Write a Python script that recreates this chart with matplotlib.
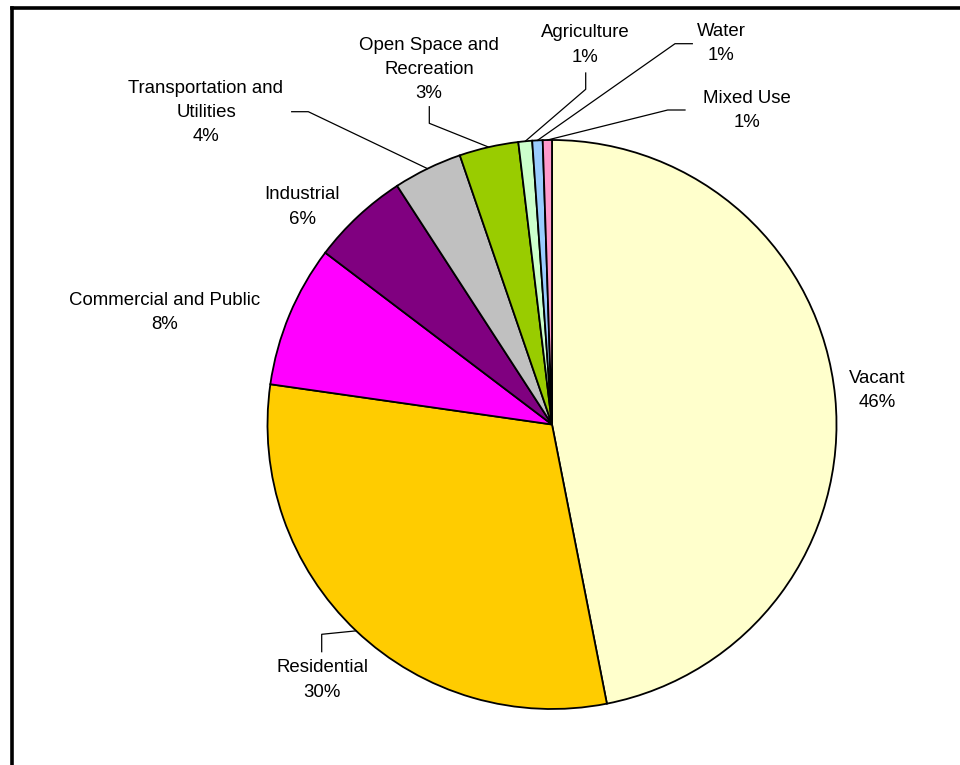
import numpy as np
import matplotlib
matplotlib.use("Agg")
import matplotlib.pyplot as plt

# land use shares, clockwise from 12 o'clock
categories = ["Vacant", "Residential", "Commercial and Public", "Industrial",
              "Transportation and\nUtilities", "Open Space and\nRecreation",
              "Agriculture", "Water", "Mixed Use"]
shares = [46.91, 30.35, 8.06, 5.52, 3.91, 3.36, 0.78, 0.59, 0.52]
pct_labels = ["46%", "30%", "8%", "6%", "4%", "3%", "1%", "1%", "1%"]
colors = ["#FFFFCC", "#FFCC00", "#FF00FF", "#800080", "#C0C0C0",
          "#99CC00", "#CCFFCC", "#99CCFF", "#FF99CC"]

W, H = 960, 765
fig = plt.figure(figsize=(W / 100, H / 100), dpi=100)
ax = fig.add_axes([0, 0, 1, 1])

cx, cy, r = 552, H - 424.5, 284.5
wedges, _ = ax.pie(shares, colors=colors, startangle=90, counterclock=False,
                   center=(cx, cy), radius=r, frame=True,
                   wedgeprops=dict(edgecolor="black", linewidth=1.3))
ax.set_xlim(0, W)
ax.set_ylim(0, H)
ax.axis("off")

# label block centres (image px) and leader elbows (None = no leader)
label_pos = [(877, 390.5), (322, 680), (165, 312.5), (302, 207), (206, 112.7),
             (429, 69.5), (585, 45), (721, 43.3), (747, 110.8)]
leaders = [None,
           [(321.7, 651.7), (321.7, 634.3)],
           None, None,
           [(291.7, 111.7), (308.3, 111.7)],
           [(429.3, 106.7), (429.3, 123.3)],
           [(585.7, 73), (585.7, 89.3)],
           [(692.3, 43.7), (675, 43.7)],
           [(685, 110), (667.7, 110)]]

for w, name, pct, (tx, ty), lead in zip(wedges, categories, pct_labels, label_pos, leaders):
    ax.text(tx, H - ty, name + "\n" + pct, ha="center", va="center",
            fontsize=13.4, family="Liberation Sans", linespacing=1.55)
    if lead is None:
        continue
    mid = np.deg2rad((w.theta1 + w.theta2) / 2)
    px, py = cx + r * np.cos(mid), cy + r * np.sin(mid)
    xs = [p[0] for p in lead] + [px]
    ys = [H - p[1] for p in lead] + [py]
    ax.plot(xs, ys, color="black", linewidth=0.9)

# chart area border (only top and left edges visible in the crop)
fig.add_artist(plt.Line2D([11.5 / W, 1], [1 - 8.3 / H, 1 - 8.3 / H],
                          transform=fig.transFigure, color="black", linewidth=2.6))
fig.add_artist(plt.Line2D([11.5 / W, 11.5 / W], [0, 1 - 8.3 / H],
                          transform=fig.transFigure, color="black", linewidth=2.6))

fig.savefig("out.png", dpi=100, facecolor="white")
